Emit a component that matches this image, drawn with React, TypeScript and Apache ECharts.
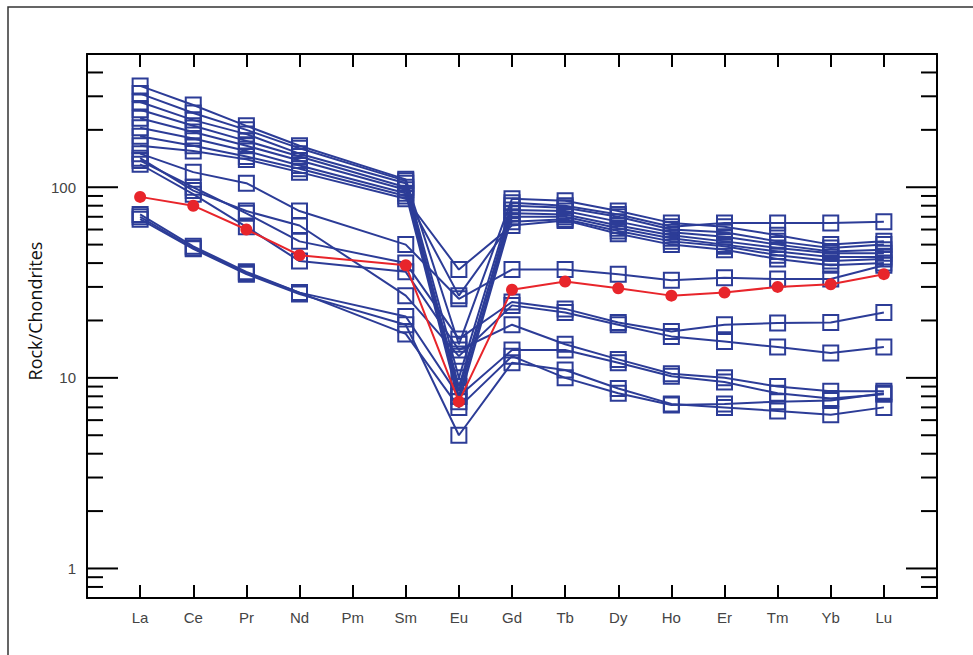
import React, { useEffect, useRef } from "react";
import * as echarts from "echarts";

const elements = ["La", "Ce", "Pr", "Nd", "Pm", "Sm", "Eu", "Gd", "Tb", "Dy", "Ho", "Er", "Tm", "Yb", "Lu"];

// Chondrite-normalised REE values (Pm not analysed -> null)
const sampleT1 = [340, 270, 210, 165, null, 110, 15, 87, 85, 75, 65, 62, 56, 50, 52];
const sampleT2 = [310, 245, 200, 160, null, 108, 10, 83, 80, 72, 62, 65, 65, 65, 66];
const sampleT3 = [280, 225, 190, 150, null, 105, 8.5, 80, 78, 70, 60, 58, 52, 48, 50];
const sampleT4 = [255, 210, 175, 145, null, 100, 9, 76, 75, 66, 58, 55, 50, 46, 47];
const sampleT5 = [230, 195, 165, 138, null, 97, 8, 73, 72, 63, 56, 52, 48, 45, 45];
const sampleT6 = [205, 180, 155, 130, null, 93, 7.5, 70, 70, 61, 54, 50, 46, 43, 43];
const sampleT7 = [185, 165, 145, 125, null, 90, 27, 66, 68, 59, 52, 49, 44, 41, 42];
const sampleT8 = [165, 155, 140, 120, null, 87, 37, 63, 67, 57, 50, 47, 42, 39, 40];
const sampleM1 = [150, 120, 105, 75, null, 50, 26, 37, 37, 35, 32.5, 33.5, 33, 33, 39];
const sampleM2 = [138, 100, 73, 52, null, 40, 16, 25, 23, 19.5, 17.5, 19, 19.4, 19.5, 22];
const sampleM3 = [132, 92, 62, 41, null, 36, 14, 19, 15, 12.5, 10.5, 10, 9, 8.5, 8.5];
const sampleM4 = [142, 96, 75, 63, null, 27, 13, 24, 22, 19, 16.5, 15.5, 14.5, 13.5, 14.5];
const sampleL1 = [72, 49, 36, 28, null, 21, 8, 14, 14, 12, 10.2, 9.5, 8.3, 7.8, 8.2];
const sampleL2 = [68, 47.5, 35, 27.5, null, 19, 5, 12, 11, 8.8, 7.3, 7, 6.7, 6.4, 7];
const sampleL3 = [70, 48, 35.5, 28, null, 17, 7, 13, 10, 8.3, 7.2, 7.3, 7.5, 7.6, 8.3];
const blueSamples = [
  sampleT1, sampleT2, sampleT3, sampleT4, sampleT5, sampleT6, sampleT7, sampleT8,
  sampleM1, sampleM2, sampleM3, sampleM4, sampleL1, sampleL2, sampleL3,
];
const redSample = [89, 80, 60, 44, null, 39, 7.5, 29, 32, 29.5, 27, 28, 30, 31, 35];

const yMin = 0.7;
const yMax = 500;
const yMajorTicks = [1, 10, 100];
const yMinorTicks = [0.8, 0.9, 2, 3, 4, 5, 6, 7, 8, 9, 20, 30, 40, 50, 60, 70, 80, 90, 200, 300, 400];

const BLUE = "#2C3C97";
const RED = "#E8252B";

function toPoints(vals: (number | null)[]) {
  const pts: number[][] = [];
  vals.forEach((v, i) => {
    if (v != null) pts.push([i + 1, v]);
  });
  return pts;
}

function tickSeries(name: string, values: number[], len: number) {
  return {
    type: "custom",
    name,
    silent: true,
    clip: false,
    data: values.map((v) => [0, v]),
    renderItem: (params: any, api: any) => {
      const v = api.value(1);
      const l = api.coord([0, v]);
      const r = api.coord([16, v]);
      const st = { stroke: "#000", lineWidth: 2 };
      return {
        type: "group",
        children: [
          { type: "line", shape: { x1: l[0], y1: l[1], x2: l[0] + len, y2: l[1] }, style: st },
          { type: "line", shape: { x1: r[0] - len, y1: r[1], x2: r[0], y2: r[1] }, style: st },
        ],
      };
    },
    z: 5,
  };
}

export default function App() {
  const ref = useRef<HTMLDivElement>(null);
  useEffect(() => {
    if (!ref.current) return;
    const chart = echarts.init(ref.current, null, { renderer: "svg" });
    const axisLine = { show: true, onZero: false, lineStyle: { color: "#000", width: 2 } };
    const xAxisBase = {
      type: "value",
      min: 0,
      max: 16,
      interval: 1,
      axisLine,
      splitLine: { show: false },
      axisTick: { show: true, inside: true, length: 13, lineStyle: { color: "#000", width: 2 } },
    };
    const yAxisBase = {
      type: "log",
      logBase: 10,
      min: yMin,
      max: yMax,
      axisLine,
      splitLine: { show: false },
      axisTick: { show: false },
    };
    const series: any[] = blueSamples.map((s, k) => ({
      type: "line",
      name: "s" + k,
      data: toPoints(s),
      symbol: "rect",
      symbolSize: 15,
      lineStyle: { color: BLUE, width: 2 },
      itemStyle: { color: "rgba(0,0,0,0)", borderColor: BLUE, borderWidth: 2 },
      z: 3,
    }));
    series.push({
      type: "line",
      name: "red",
      data: toPoints(redSample),
      symbol: "circle",
      symbolSize: 12,
      lineStyle: { color: RED, width: 2 },
      itemStyle: { color: RED },
      z: 4,
    });
    series.push(tickSeries("majorTicks", yMajorTicks, 31));
    series.push(tickSeries("minorTicks", yMinorTicks, 16));
    chart.setOption({
      animation: false,
      backgroundColor: "#fff",
      grid: { left: 87, right: 36, top: 54, bottom: 57 },
      xAxis: [
        {
          ...xAxisBase,
          position: "bottom",
          axisLabel: {
            show: true,
            margin: 12,
            color: "#444",
            fontSize: 15,
            fontFamily: "Liberation Sans",
            showMinLabel: false,
            showMaxLabel: false,
            formatter: (v: number) => elements[v - 1] ?? "",
          },
        },
        { ...xAxisBase, position: "top", axisLabel: { show: false } },
      ],
      yAxis: [
        {
          ...yAxisBase,
          position: "left",
          axisLabel: {
            show: true,
            margin: 11,
            color: "#444",
            fontSize: 15,
            fontFamily: "Liberation Sans",
            showMinLabel: false,
            showMaxLabel: false,
          },
        },
        { ...yAxisBase, position: "right", axisLabel: { show: false } },
      ],
      graphic: [
        {
          type: "rect",
          shape: { x: 8, y: 7, width: 1000, height: 700 },
          style: { fill: "none", stroke: "#333", lineWidth: 1.5 },
          silent: true,
        },
        {
          type: "text",
          x: 35,
          y: 311,
          rotation: Math.PI / 2,
          style: {
            text: "Rock/Chondrites",
            fill: "#111",
            fontSize: 18,
            fontFamily: "Open Sans",
            align: "center",
            verticalAlign: "middle",
          },
        },
      ],
      series,
    });
    return () => chart.dispose();
  }, []);
  return (
    <div
      ref={ref}
      style={{ position: "fixed", left: 0, top: 0, width: 973, height: 655, background: "#fff" }}
    />
  );
}
